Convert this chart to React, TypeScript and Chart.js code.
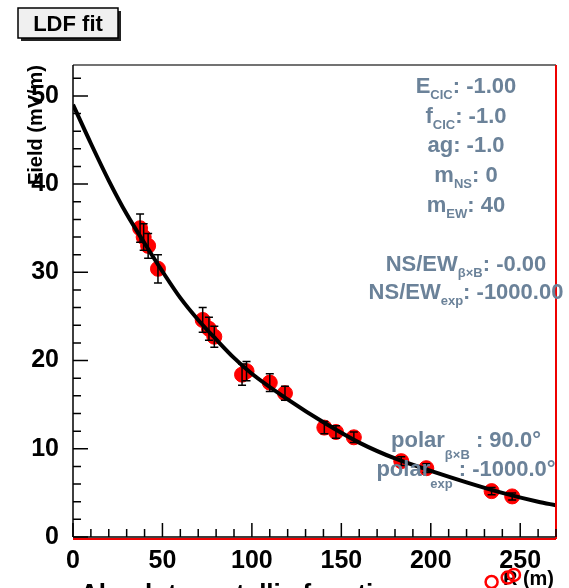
import React, { useEffect, useRef } from "react";
import { Chart, registerables } from "chart.js";
Chart.register(...registerables);

const distances = [37.5, 39.5, 42, 47.5, 72.5, 76, 79, 94.5, 97, 110, 118.5, 140.5, 147, 157, 183.5, 197.5, 234, 245.5];
const fields = [35.0, 34.0, 33.0, 30.4, 24.6, 23.6, 22.7, 18.4, 18.8, 17.5, 16.3, 12.4, 11.9, 11.3, 8.6, 7.8, 5.2, 4.6];
const fieldErrors = [1.6, 1.5, 1.4, 1.6, 1.4, 1.3, 1.2, 1.2, 1.1, 1.0, 0.8, 0.7, 0.7, 0.6, 0.5, 0.5, 0.4, 0.4];
const fitDistances = [0, 10, 20, 30, 40, 50, 60, 70, 80, 90, 100, 120, 140, 160, 180, 200, 220, 240, 260, 270];
const fitFields = [49.0, 44.6, 40.4, 36.6, 33.3, 30.1, 27.1, 24.6, 22.4, 20.3, 18.5, 15.6, 13.0, 10.7, 8.9, 7.5, 6.2, 5.0, 4.0, 3.6];
const overflowDistances = [234, 243, 246.5];
const overflowFields = [-5.1, -4.6, -4.3];
const xMajorStep = 50;
const xMinorStep = 10;
const yMajorStep = 10;
const yMinorStep = 2;
const xRange = [0, 270];
const yRange = [0, 53.5];

const FONT = '"Liberation Sans", Arial, Helvetica, sans-serif';
const NOTE = "#6b8299";

type Seg = [string, "main" | "sub"];
const notes: { segs: Seg[]; base: number; subOff?: number }[] = [
  { segs: [["E", "main"], ["CIC", "sub"], [": -1.00", "main"]], base: 93 },
  { segs: [["f", "main"], ["CIC", "sub"], [": -1.0", "main"]], base: 123 },
  { segs: [["ag: -1.0", "main"]], base: 152 },
  { segs: [["m", "main"], ["NS", "sub"], [": 0", "main"]], base: 182 },
  { segs: [["m", "main"], ["EW", "sub"], [": 40", "main"]], base: 212 },
  { segs: [["NS/EW", "main"], ["\u03B2\u00D7B", "sub"], [": -0.00", "main"]], base: 271 },
  { segs: [["NS/EW", "main"], ["exp", "sub"], [": -1000.00", "main"]], base: 299 },
  { segs: [["polar", "main"], ["\u03B2\u00D7B", "sub"], [" : 90.0\u00B0", "main"]], base: 447, subOff: 12 },
  { segs: [["polar", "main"], ["exp", "sub"], [" : -1000.0\u00B0", "main"]], base: 476, subOff: 12 },
];

const decorPlugin = {
  id: "decor",
  beforeDraw(chart: any) {
    const c = chart.ctx;
    c.save();
    c.fillStyle = "#fff";
    c.fillRect(0, 0, chart.width, chart.height);
    c.restore();
  },
  afterDatasetsDraw(chart: any) {
    const c = chart.ctx;
    const xs = chart.scales.x;
    const ys = chart.scales.y;
    c.save();
    c.strokeStyle = "#000";
    c.lineWidth = 1.5;
    distances.forEach((d, i) => {
      const px = xs.getPixelForValue(d);
      const top = ys.getPixelForValue(fields[i] + fieldErrors[i]);
      const bot = ys.getPixelForValue(fields[i] - fieldErrors[i]);
      c.beginPath();
      c.moveTo(px, top);
      c.lineTo(px, bot);
      c.moveTo(px - 4, top);
      c.lineTo(px + 4, top);
      c.moveTo(px - 4, bot);
      c.lineTo(px + 4, bot);
      c.stroke();
    });
    c.restore();
  },
  afterDraw(chart: any) {
    const c = chart.ctx;
    const xs = chart.scales.x;
    const ys = chart.scales.y;
    const a = chart.chartArea;
    c.save();
    // frame
    c.lineWidth = 1.5;
    c.strokeStyle = "#444";
    c.beginPath();
    c.moveTo(a.left, a.top);
    c.lineTo(a.right, a.top);
    c.stroke();
    c.strokeStyle = "#000";
    c.beginPath();
    c.moveTo(a.left, a.top);
    c.lineTo(a.left, a.bottom);
    c.moveTo(a.left, a.bottom);
    c.lineTo(a.right, a.bottom);
    c.stroke();
    c.strokeStyle = "#e00";
    c.lineWidth = 2;
    c.beginPath();
    c.moveTo(a.right, a.top);
    c.lineTo(a.right, a.bottom + 2);
    c.moveTo(a.left, a.bottom + 2);
    c.lineTo(a.right, a.bottom + 2);
    c.stroke();
    // inward ticks
    c.strokeStyle = "#000";
    c.lineWidth = 1.5;
    c.beginPath();
    for (let v = yRange[0]; v <= yRange[1]; v += yMinorStep) {
      const py = ys.getPixelForValue(v);
      const len = v % yMajorStep === 0 ? 15 : 8;
      c.moveTo(a.left, py);
      c.lineTo(a.left + len, py);
    }
    for (let v = xRange[0]; v <= xRange[1]; v += xMinorStep) {
      const px = xs.getPixelForValue(v);
      const len = v % xMajorStep === 0 ? 14 : 8;
      c.moveTo(px, a.bottom);
      c.lineTo(px, a.bottom - len);
    }
    c.stroke();

    // title box
    c.fillStyle = "#222";
    c.fillRect(21, 11, 100, 30);
    c.fillStyle = "#f0f0f0";
    c.fillRect(18, 8, 100, 30);
    c.strokeStyle = "#000";
    c.lineWidth = 1.5;
    c.strokeRect(18, 8, 100, 30);
    c.fillStyle = "#000";
    c.font = `bold 22px ${FONT}`;
    c.textAlign = "center";
    c.textBaseline = "alphabetic";
    c.fillText("LDF fit", 68, 31);

    // y title
    c.save();
    c.translate(42, a.top);
    c.rotate(-Math.PI / 2);
    c.font = `bold 20px ${FONT}`;
    c.textAlign = "right";
    c.fillStyle = "#000";
    c.fillText("Field (mV/m)", 0, 0);
    c.restore();

    // x title
    c.font = `bold 20px ${FONT}`;
    c.textAlign = "right";
    c.fillStyle = "#000";
    c.fillText("R (m)", 554, 585);

    // overflow points (outside the frame)
    c.strokeStyle = "#ff0000";
    c.lineWidth = 2.5;
    overflowDistances.forEach((d, i) => {
      const px = xs.getPixelForValue(d);
      const py = ys.getPixelForValue(overflowFields[i]);
      c.beginPath();
      c.arc(px, py, 6, 0, Math.PI * 2);
      c.stroke();
    });

    // bottom cut text
    c.fillStyle = "#000";
    c.font = `bold 26px ${FONT}`;
    c.textAlign = "left";
    c.fillText("Absolute metallic function", 80, 602);

    // notes
    notes.forEach((n) => {
      const mainF = `bold 22px ${FONT}`;
      const subF = `bold 13px ${FONT}`;
      let w = 0;
      n.segs.forEach(([t, k]) => {
        c.font = k === "main" ? mainF : subF;
        w += c.measureText(t).width;
      });
      let x = 466 - w / 2;
      c.textAlign = "left";
      c.fillStyle = NOTE;
      n.segs.forEach(([t, k]) => {
        c.font = k === "main" ? mainF : subF;
        const yb = k === "main" ? n.base : n.base + (n.subOff ?? 6);
        c.fillText(t, x, yb);
        x += c.measureText(t).width;
      });
    });
    c.restore();
  },
};

export default function App() {
  const ref = useRef<HTMLCanvasElement>(null);
  useEffect(() => {
    if (!ref.current) return;
    const chart = new Chart(ref.current, {
      type: "scatter",
      data: {
        datasets: [
          {
            label: "fit",
            type: "line",
            data: fitDistances.map((x, i) => ({ x, y: fitFields[i] })),
            borderColor: "#000",
            borderWidth: 4,
            pointRadius: 0,
            cubicInterpolationMode: "monotone",
            fill: false,
            order: 0,
          } as any,
          {
            label: "data",
            data: distances.map((x, i) => ({ x, y: fields[i] })),
            backgroundColor: "#ff0000",
            borderColor: "#ff0000",
            pointRadius: 7.5,
            order: 1,
          },
        ],
      },
      options: {
        animation: false,
        responsive: false,
        devicePixelRatio: 1,
        layout: { padding: { left: 0, right: 13, top: 65, bottom: 0 } },
        plugins: { legend: { display: false }, tooltip: { enabled: false } },
        scales: {
          x: {
            type: "linear",
            min: xRange[0],
            max: xRange[1],
            grid: { display: false },
            border: { display: false },
            ticks: {
              stepSize: xMajorStep,
              includeBounds: false,
              maxRotation: 0,
              autoSkip: false,
              padding: 1,
              color: "#000",
              font: { family: FONT, size: 25, weight: "bold" },
            },
            afterFit: (s: any) => {
              s.height = 51;
            },
          },
          y: {
            type: "linear",
            min: yRange[0],
            max: yRange[1],
            grid: { display: false },
            border: { display: false },
            ticks: {
              stepSize: yMajorStep,
              includeBounds: false,
              autoSkip: false,
              padding: 6,
              color: "#000",
              font: { family: FONT, size: 25, weight: "bold" },
            },
            afterFit: (s: any) => {
              s.width = 73;
            },
          },
        },
      },
      plugins: [decorPlugin],
    });
    return () => chart.destroy();
  }, []);
  return (
    <div style={{ position: "fixed", left: 0, top: 0, width: 569, height: 588, background: "#fff" }}>
      <canvas ref={ref} width={569} height={588} style={{ display: "block" }} />
    </div>
  );
}
